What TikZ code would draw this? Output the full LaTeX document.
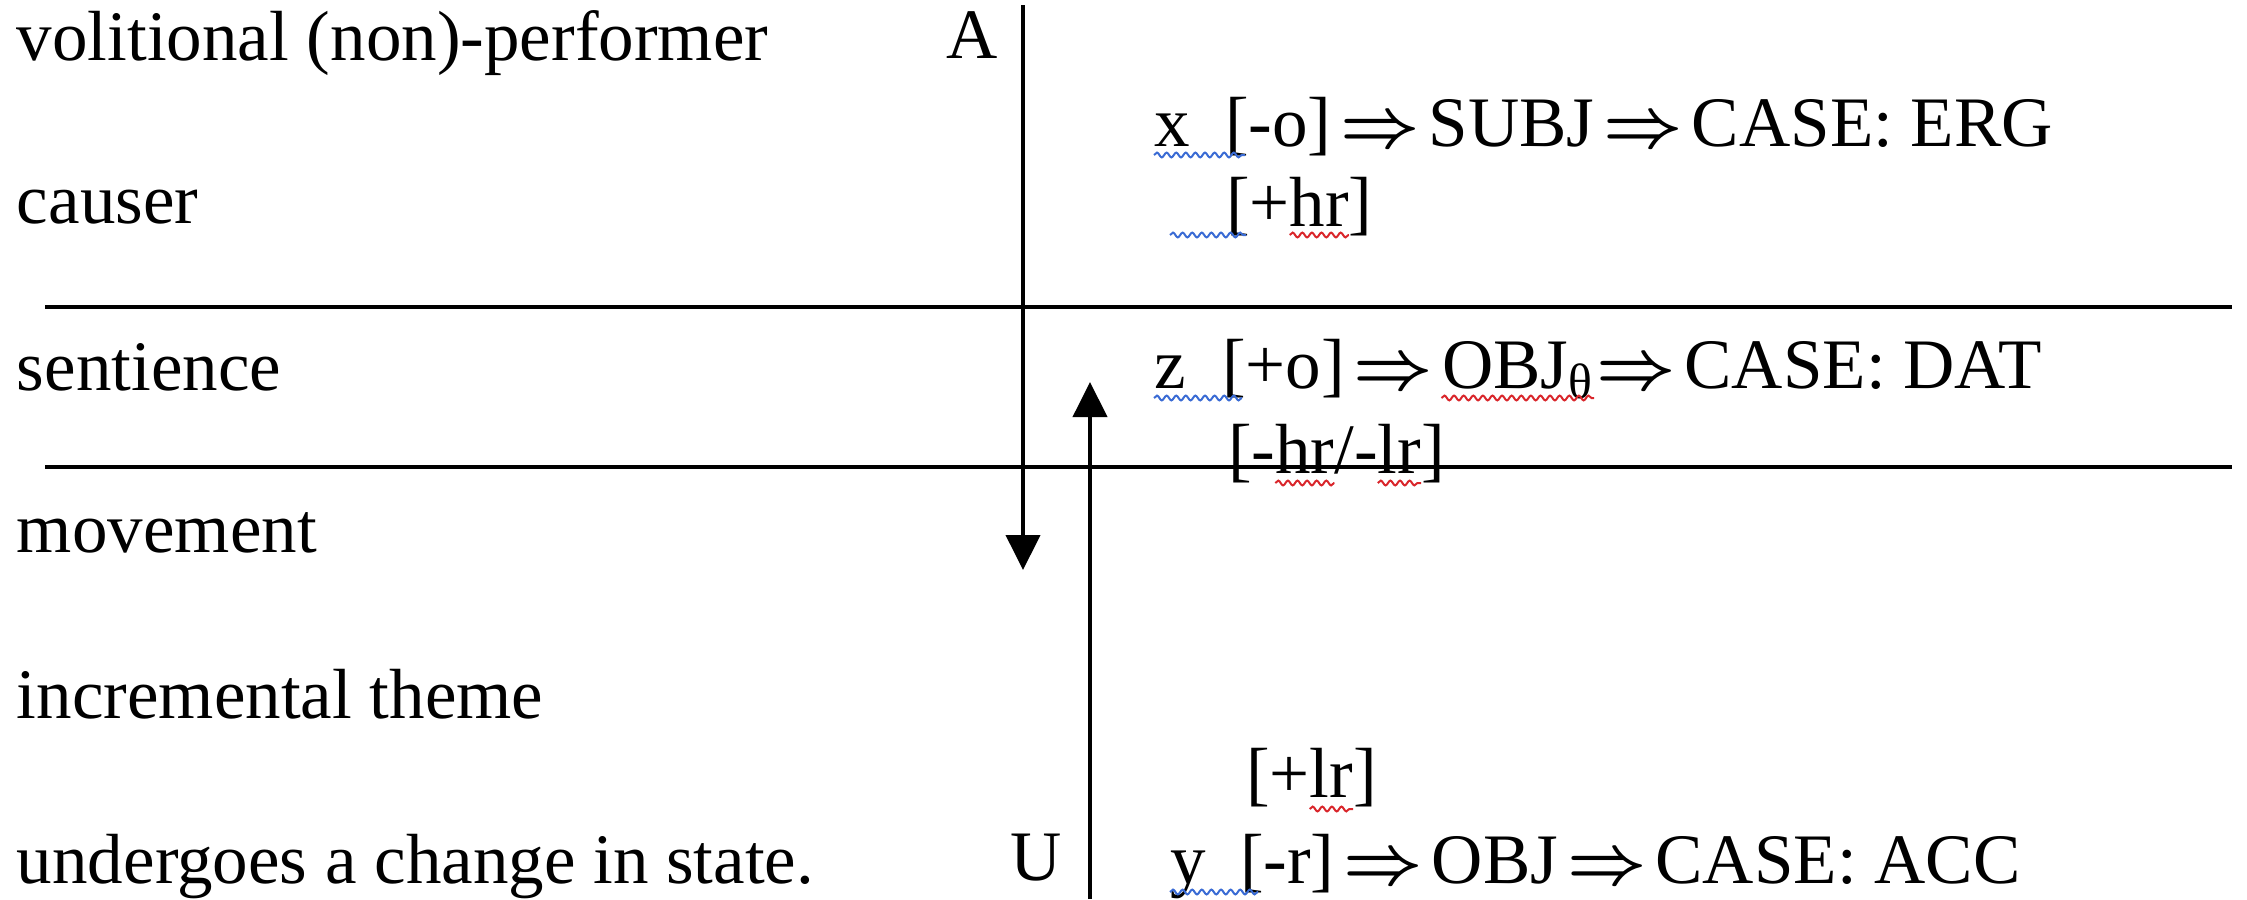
\documentclass[tikz,border=0pt]{standalone}
\usepackage{fontspec}
\setmainfont{Liberation Serif}
\usetikzlibrary{arrows.meta,decorations.pathmorphing,calc}
\definecolor{spellblue}{HTML}{3A6BD4}
\definecolor{spellred}{HTML}{D9262B}
\newcommand{\impl}{\kern-2.2pt{\boldmath$\Rightarrow$}\kern-2.2pt}
\tikzset{
  txt/.style={anchor=base west, inner sep=0pt, outer sep=0pt, font=\fontsize{17.75}{20}\selectfont},
  rule/.style={line width=1pt},
  axis/.style={line width=1pt, -{Triangle[length=8.75pt,width=8.5pt]}},
  wavy/.style={line width=0.5pt, decorate, decoration={snake, amplitude=0.6pt, segment length=2.4pt}},
  bluewave/.style={wavy, spellblue},
  redwave/.style={wavy, spellred},
}
\begin{document}
\begin{tikzpicture}[x=0.25pt,y=-0.25pt]
\useasboundingbox (0,0) rectangle (2247,899);
% left column
\node[txt] (l1) at (17,60) {volitional (non)-performer};
\node[txt] (l2) at (17,223) {causer};
\node[txt] (l3) at (17,390) {sentience};
\node[txt] (l4) at (17,552) {movement};
\node[txt] (l5) at (17,718) {incremental theme};
\node[txt] (l6) at (17,883) {undergoes a change in state.};
\node[txt] (A) at (946,58) {A};
\node[txt] (U) at (1010,880) {U};
% rules
\coordinate (r1w) at (45,307); \coordinate (r1e) at (2232,307);
\coordinate (r2w) at (45,467); \coordinate (r2e) at (2232,467);
\draw[rule] (r1w) -- (r1e);
\draw[rule] (r2w) -- (r2e);
% arrows
\coordinate (dtop) at (1023,5); \coordinate (dtip) at (1023,570);
\draw[axis] (dtop) -- (dtip);
\coordinate (ubot) at (1090,899); \coordinate (utip) at (1090,382);
\draw[axis] (ubot) -- (utip);
% line 1
\node[txt] (x) at (1154,146) {x};
\node[txt] (xf) at (1225,146) {[-o] \impl{} SUBJ \impl{} CASE: ERG};
\draw[bluewave] ($(x.base west)+(0,9)$) -- ($(xf.base west)+(20,9)$);
% line 2
\node[txt] (h1) at (1226,226) {[+};
\node[txt] (h2) at (h1.base east) {hr};
\node[txt] (h3) at (h2.base east) {]};
\draw[bluewave] ($(h1.base west)+(-56,9)$) -- ($(h1.base west)+(20,9)$);
\draw[redwave] ($(h2.base west)+(0,9)$) -- ($(h2.base east)+(0,9)$);
% line 3
\node[txt] (z) at (1154,388) {z};
\node[txt] (zf1) at (1222,388) {[+o] \impl};
\node[txt] (obj) at (zf1.base east) {\kern4.4pt OBJ\textsubscript{θ}};
\node[txt] (zf2) at (obj.base east) {\kern0.5pt{\boldmath$\Rightarrow$}\kern-2.2pt{} CASE: DAT};
\draw[bluewave] ($(z.base west)+(0,10)$) -- ($(zf1.base west)+(20,10)$);
\draw[redwave] ($(obj.base west)+(17,10)$) -- ($(obj.base east)+(0,10)$);
% line 4
\node[txt] (m1) at (1228,473) {[-};
\node[txt] (m2) at (m1.base east) {hr};
\node[txt] (m3) at (m2.base east) {/-};
\node[txt] (m4) at (m3.base east) {lr};
\node[txt] (m5) at (m4.base east) {]};
\draw[redwave] ($(m2.base west)+(0,10)$) -- ($(m2.base east)+(0,10)$);
\draw[redwave] ($(m4.base west)+(0,10)$) -- ($(m4.base east)+(0,10)$);
% line 5
\node[txt] (p1) at (1246,797) {[+};
\node[txt] (p2) at (p1.base east) {lr};
\node[txt] (p3) at (p2.base east) {]};
\draw[redwave] ($(p2.base west)+(0,12)$) -- ($(p2.base east)+(0,12)$);
% line 6
\node[txt] (y) at (1170,883) {y};
\node[txt] (yf) at (1240,883) {[-r] \impl{} OBJ \impl{} CASE: ACC};
\draw[bluewave] ($(y.base west)+(0,9)$) -- ($(yf.base west)+(18,9)$);
\end{tikzpicture}
\end{document}
